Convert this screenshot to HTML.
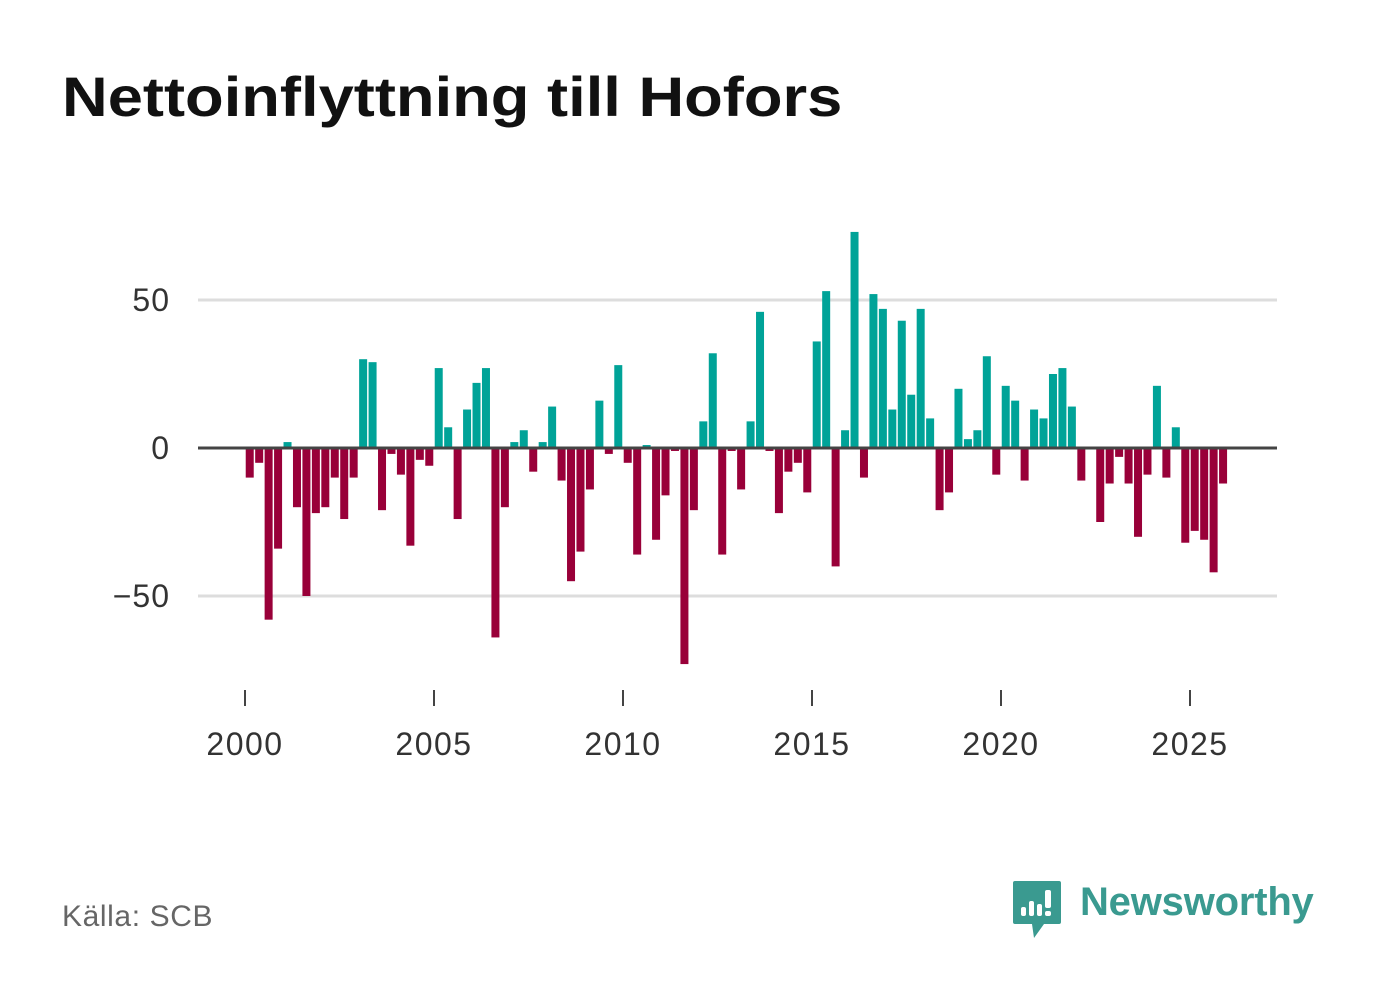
<!DOCTYPE html>
<html><head><meta charset="utf-8">
<style>
body{margin:0;background:#fff;font-family:"Liberation Sans",sans-serif;}
#wrap{position:relative;width:1382px;height:999px;overflow:hidden;}
h1{position:absolute;left:62px;top:64px;margin:0;font-size:56px;font-weight:bold;color:#111;letter-spacing:0px;transform:scaleX(1.13);transform-origin:left top;white-space:nowrap;}
.src{position:absolute;left:62px;top:900px;font-size:30px;color:#666;letter-spacing:0.6px;}
.logo{position:absolute;left:1012px;top:880px;}
.logotext{position:absolute;left:1080px;top:880px;font-size:40px;color:#3a9a90;font-weight:bold;letter-spacing:-0.2px;}
</style></head><body>
<div id="wrap">
<h1>Nettoinflyttning till Hofors</h1>
<svg id="chart" width="1382" height="999" style="position:absolute;left:0;top:0"></svg>
<div class="src">Källa: SCB</div>
<svg class="logo" width="50" height="60">
<path d="M3 1 H47 Q49 1 49 3 V42 Q49 44 47 44 H32 L22 58 L20 44 H3 Q1 44 1 42 V3 Q1 1 3 1Z" fill="#3a9a90"/>
<rect x="9" y="27" width="5" height="9" rx="2" fill="#fff"/>
<rect x="17" y="21" width="5" height="15" rx="2" fill="#fff"/>
<rect x="25" y="24" width="5" height="12" rx="2" fill="#fff"/>
<rect x="33" y="10" width="6" height="18" rx="2" fill="#fff"/>
<rect x="33" y="31" width="6" height="5" rx="2" fill="#fff"/>
</svg>
<div class="logotext">Newsworthy</div>
</div>
<script>
const startYear = 2000;
const values = [-10,-5,-58,-34, 2,-20,-50,-22, -20,-10,-24,-10, 30,29,-21,-2, -9,-33,-4,-6,
27,7,-24,13, 22,27,-64,-20, 2,6,-8,2, 14,-11,-45,-35, -14,16,-2,28,
-5,-36,1,-31, -16,-1,-73,-21, 9,32,-36,-1, -14,9,46,-1, -22,-8,-5,-15,
36,53,-40,6, 73,-10,52,47, 13,43,18,47, 10,-21,-15,20, 3,6,31,-9,
21,16,-11,13, 10,25,27,14, -11,0,-25,-12, -3,-12,-30,-9, 21,-10,7,-32, -28,-31,-42,-12];
const yTicks = [50,0,-50];
const yTickLabels = ["50","0","\u221250"];
const xTicks = [2000,2005,2010,2015,2020,2025];

const NS="http://www.w3.org/2000/svg";
const svg=document.getElementById('chart');
const x0=245, pxYear=37.8, y0=448, pxUnit=2.96;
const xScale=t=>x0+(t-2000)*pxYear;
const yScale=v=>y0-v*pxUnit;
function mk(tag,attrs){const e=document.createElementNS(NS,tag);for(const k in attrs)e.setAttribute(k,attrs[k]);svg.appendChild(e);return e;}

yTicks.forEach((t,i)=>{
  if(t!==0){const g=mk('line',{x1:198,x2:1277,y1:yScale(t),y2:yScale(t),stroke:'#ddd','stroke-width':3});
  
  }
  const lb=mk('text',{x:170,y:yScale(t)+11,'text-anchor':'end','font-size':32,'letter-spacing':1,fill:'#333','font-family':'Liberation Sans, sans-serif'});
  lb.textContent=yTickLabels[i];
  
  
});
values.forEach((v,i)=>{
  const t=startYear+(i+0.5)/4;
  const cx=xScale(t);
  const r=mk('rect',{x:cx-4,width:8,y:Math.min(yScale(v),y0),height:Math.abs(yScale(v)-y0),fill:v>=0?'#00a398':'#990039'});
  
  
});
const zl=mk('line',{x1:198,x2:1277,y1:y0,y2:y0,stroke:'#444','stroke-width':3});


xTicks.forEach(t=>{
  const tk=mk('line',{x1:xScale(t),x2:xScale(t),y1:690,y2:706,stroke:'#444','stroke-width':2});
  
  
  const lb=mk('text',{x:xScale(t),y:755,'text-anchor':'middle','font-size':32,'letter-spacing':1.5,fill:'#333','font-family':'Liberation Sans, sans-serif'});
  lb.textContent=t;
  
  
});
</script>
</body></html>
